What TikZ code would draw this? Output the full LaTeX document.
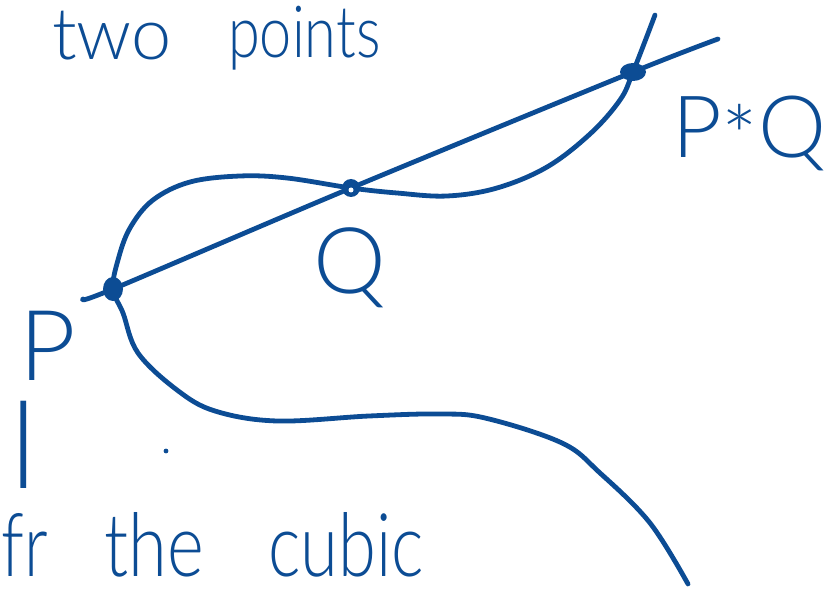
\documentclass[tikz,border=0pt]{standalone}
\usepackage{fontspec}
\IfFontExistsTF{Lato Light}{\setmainfont{Lato Light}}{\setmainfont{Lato}}
\usetikzlibrary{calc}
\definecolor{ink}{RGB}{12,76,148}
\tikzset{
  hand/.style={text=ink, inner sep=0pt},
  stroke/.style={draw=ink, line width=4.8pt, line cap=round, line join=round},
}
\newcommand{\hs}[1]{\fontsize{#1}{#1}\selectfont}
\begin{document}
\begin{tikzpicture}[x=1pt,y=-1pt]
\useasboundingbox (0,0) rectangle (833,596);
\clip (0,0) rectangle (833,596);
% key points
\coordinate (P) at (113,289);
\coordinate (Q) at (351,188);
\coordinate (PQ) at (633,72);
\coordinate (L0) at (83,299);
\coordinate (L1) at (718,39);
% the cubic
\draw[stroke] plot[smooth, tension=0.6] coordinates {
  (655,15) (PQ) (620,100) (590,134) (547,167) (497,188) (447,196) (397,193) (Q)
  (287,178) (240,176) (190,182) (153,200) (130,228) (118,260) (P)
  (123,313) (138,353) (177,390) (215,411) (277,421) (369,416) (438,414) (485,418)
  (562,443) (600,473) (650,523) (688,584)};
% the line
\draw[stroke] plot[smooth, tension=0.5] coordinates {(L0) (P) (Q) (PQ) (L1)};
% points
\fill[ink] (P) ellipse[x radius=10, y radius=12];
\fill[ink] (Q) circle[radius=9];
\fill[white] ($(Q)+(0,2)$) circle[radius=2.5];
\fill[ink] (PQ) ellipse[x radius=13, y radius=9];
\fill[ink] (166,451) circle[radius=2.4];
% labels
\node[hand, font=\hs{72}, anchor=base west] (two) at (52,60) {two};
\node[hand, font=\hs{72}, anchor=base west] (points) at (228,58) {\scalebox{0.8}[1]{points}};
\node[hand, font=\hs{98}, anchor=base] (Plabel) at (48,380) {P};
\node[hand, font=\hs{92}, anchor=base] (Qlabel) at (350,294) {Q};
\node[hand, font=\hs{86}, anchor=base west] (PQlabel) at (672,158) {P{\raisebox{-0.12em}{*}}Q};
\node[hand, font=\hs{120}, anchor=base] (ell) at (24,488) {l};
\node[hand, font=\hs{88}, anchor=base west] (fr) at (1,576) {\scalebox{0.76}[1]{fr}};
\node[hand, font=\hs{88}, anchor=base west] (the) at (104,576) {\scalebox{0.8}[1]{the}};
\node[hand, font=\hs{88}, anchor=base west] (cubic) at (268,576) {\scalebox{0.78}[1]{cubic}};
\end{tikzpicture}
\end{document}
